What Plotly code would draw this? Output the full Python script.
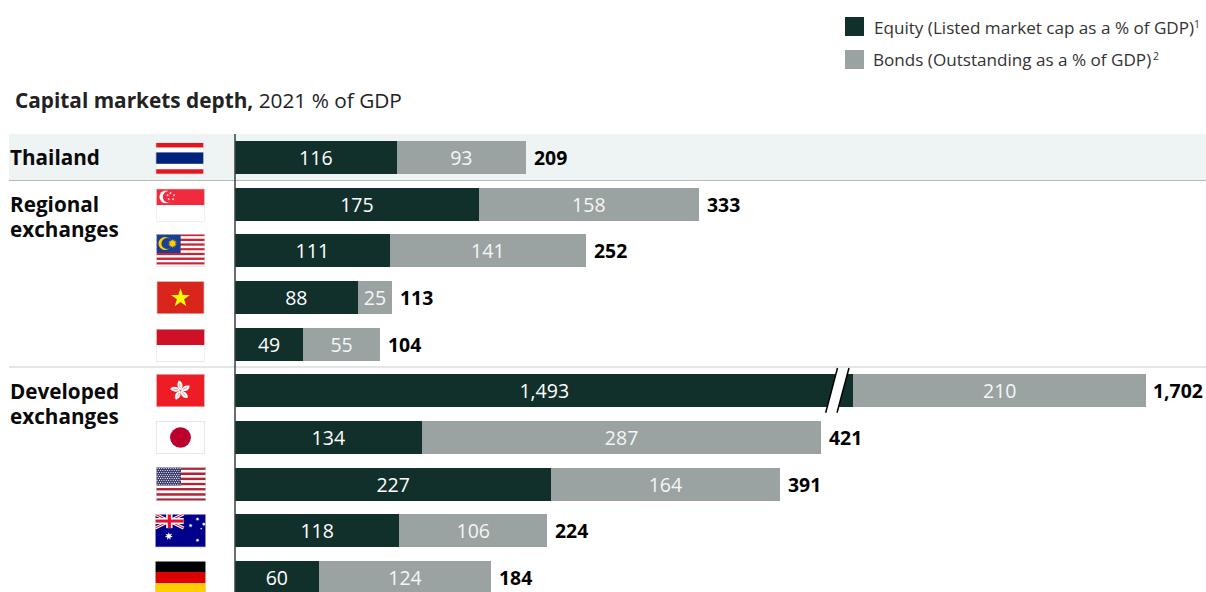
import base64
import math
import plotly.graph_objects as go

W, H = 1206, 592

# Data
countries = ["Thailand", "Singapore", "Malaysia", "Vietnam", "Indonesia",
             "Hong Kong", "Japan", "United States", "Australia", "Germany"]
equity = [116, 175, 111, 88, 49, 1493, 134, 227, 118, 60]
bonds = [93, 158, 141, 25, 55, 210, 287, 164, 106, 124]
totals = [209, 333, 252, 113, 104, 1702, 421, 391, 224, 184]
# Span cut out of the Hong Kong equity bar by the axis break
axis_cut = [0, 0, 0, 0, 0, 1049, 0, 0, 0, 0]

DARK = "#12302B"
GREY = "#9BA2A2"
FONT = "Open Sans"

PX_PER_UNIT = 1.393
ZERO_X = 235.0
ROW0 = 157.5
ROW_STEP = 46.67
BAR_PX = 33


def fx(px):
    return px / W


def fy(py):
    return 1 - py / H


def star(cx, cy, r, fill, inner=0.382, n=5):
    pts = []
    for i in range(n * 2):
        rad = r if i % 2 == 0 else r * inner
        a = -math.pi / 2 + i * math.pi / n
        pts.append(f"{cx + rad * math.cos(a):.2f},{cy + rad * math.sin(a):.2f}")
    return f'<polygon points="{" ".join(pts)}" fill="{fill}"/>'


def rect(x, y, w, h, fill):
    return f'<rect x="{x}" y="{y}" width="{w}" height="{h}" fill="{fill}"/>'


def stripes(n, a, b):
    step = 33 / n
    return "".join(rect(0, i * step, 48, step + 0.05, a if i % 2 == 0 else b) for i in range(n))


def flag_thailand():
    return rect(0, 0, 48, 33, "#fff") + rect(0, 1, 48, 4.5, "#E2161F") + rect(0, 10.5, 48, 11.5, "#00247D") + rect(0, 27.5, 48, 4.5, "#E2161F")


def flag_singapore():
    body = rect(0, 0, 48, 16.5, "#EF2B3D") + rect(0, 16.5, 48, 16.5, "#fff")
    body += '<circle cx="9.5" cy="8.2" r="6.4" fill="#fff"/><circle cx="12.2" cy="8.2" r="5.8" fill="#EF2B3D"/>'
    for cx, cy in [(14, 4.6), (17.6, 6.6), (16.6, 10.6), (12.4, 10.6), (11.2, 6.6)]:
        body += star(cx, cy, 1.5, "#fff")
    return body


def flag_malaysia():
    body = stripes(14, "#CC2233", "#fff")
    body += rect(0, 0, 24, 19, "#1C3F94")
    body += '<circle cx="8.5" cy="9.5" r="6.4" fill="#FFCC00"/><circle cx="10.5" cy="9.5" r="5.4" fill="#1C3F94"/>'
    body += star(16, 9.5, 4.6, "#FFCC00", inner=0.55, n=14)
    return body


def flag_vietnam():
    return rect(0, 0, 48, 33, "#DA251D") + star(24, 17, 10, "#FFFF00")


def flag_indonesia():
    return rect(0, 0, 48, 16, "#CE1126") + rect(0, 16, 48, 17, "#fff")


def flag_hong_kong():
    body = rect(0, 0, 48, 33, "#EE1C25")
    for k in range(5):
        a = k * 72
        body += (f'<g transform="rotate({a} 24 16.5)">'
                 '<path d="M24 16.2 C20.8 13.6 20 10 22.2 6.4 C25.8 7.4 27.6 12 24 16.2Z" fill="#fff"/>'
                 '<path d="M23.6 14 L23.2 9.5" stroke="#EE1C25" stroke-width="0.45"/></g>')
    return body


def flag_japan():
    return rect(0, 0, 48, 33, "#fff") + '<circle cx="24" cy="16.5" r="10.2" fill="#BC002D"/>'


def flag_usa():
    body = stripes(13, "#B22234", "#fff") + rect(0, 0, 24, 17.8, "#3C3B6E")
    for row in range(9):
        for col in range(11 if row % 2 == 0 else 10):
            ox = 1.1 if row % 2 == 0 else 2.2
            body += f'<circle cx="{ox + col * 2.2:.2f}" cy="{1.2 + row * 1.93:.2f}" r="0.55" fill="#fff"/>'
    return body


def flag_australia():
    body = rect(0, 0, 48, 33, "#00008B")
    body += '<path d="M0 0L27 14M27 0L0 14" stroke="#fff" stroke-width="3"/>'
    body += '<path d="M0 0L27 14M27 0L0 14" stroke="#E8112D" stroke-width="1.1"/>'
    body += rect(10.5, 0, 6, 14, "#fff") + rect(0, 4, 27, 6, "#fff")
    body += rect(12, 0, 3, 14, "#E8112D") + rect(0, 5.5, 27, 3, "#E8112D")
    body += star(13, 22, 4, "#fff", inner=0.45, n=7)
    for cx, cy, r in [(40, 26, 2), (40, 5, 2), (33.5, 11.5, 2), (46, 10, 2), (43.5, 14.5, 1.1)]:
        body += star(cx, cy, r, "#fff", inner=0.45, n=7)
    return body


def flag_germany():
    return rect(0, 0, 48, 11, "#000") + rect(0, 11, 48, 11, "#DD0000") + rect(0, 22, 48, 11, "#FFCE00")


def flag_uri(body):
    svg = ('<svg xmlns="http://www.w3.org/2000/svg" width="192" height="132" viewBox="0 0 48 33" '
           f'preserveAspectRatio="none">{body}'
           '<rect x="0.3" y="0.3" width="47.4" height="32.4" fill="none" stroke="#D8DADA" stroke-width="0.6"/></svg>')
    return "data:image/svg+xml;base64," + base64.b64encode(svg.encode()).decode()


# Flag artwork with its box on the page: left, top, right, bottom
flags = [
    (flag_thailand, 155.7, 142, 203.7, 174.7),
    (flag_singapore, 156.3, 188.7, 204.7, 221.7),
    (flag_malaysia, 156.3, 234, 205, 267),
    (flag_vietnam, 156.7, 281.3, 204.3, 314),
    (flag_indonesia, 156.3, 329, 204.7, 362),
    (flag_hong_kong, 156.3, 374, 204.7, 407),
    (flag_japan, 156, 421, 205, 454),
    (flag_usa, 156, 467.3, 206, 501),
    (flag_australia, 155, 514, 206, 547.3),
    (flag_germany, 155, 561, 206, 594),
]

images = [
    dict(source=flag_uri(f()), xref="paper", yref="paper", x=fx(l), y=fy(t),
         sizex=(r - l) / W, sizey=(b - t) / H, sizing="stretch",
         xanchor="left", yanchor="top", layer="above")
    for f, l, t, r, b in flags
]

drawn_equity = [v - c for v, c in zip(equity, axis_cut)]
drawn_totals = [v - c for v, c in zip(totals, axis_cut)]

fig = go.Figure()
fig.add_bar(
    y=countries, x=drawn_equity, orientation="h", name="Equity", marker=dict(color=DARK, line_width=0),
    text=[f"{v:,}" for v in equity], textposition="inside", insidetextanchor="middle", textangle=0,
    insidetextfont=dict(family=FONT, size=19.5, color="#FFFFFF"), constraintext="none", hoverinfo="skip",
)
fig.add_bar(
    y=countries, x=bonds, orientation="h", name="Bonds", marker=dict(color=GREY, line_width=0),
    text=[f"{v:,}" for v in bonds], textposition="inside", insidetextanchor="middle", textangle=0,
    insidetextfont=dict(family=FONT, size=19.5, color="#F4F6F6"), constraintext="none", hoverinfo="skip",
)


def label(text, x, y, size, color="#111111", anchor="left"):
    return dict(text=text, xref="paper", yref="paper", x=fx(x), y=fy(y), xanchor=anchor, yanchor="middle",
                showarrow=False, borderpad=0, borderwidth=0, font=dict(family=FONT, size=size, color=color))


annotations = [
    dict(text=f"<b>{v:,}</b>", x=d, y=c, xref="x", yref="y", xanchor="left", yanchor="middle", xshift=7,
         showarrow=False, borderpad=0, font=dict(family=FONT, size=19.4, color="#000000"))
    for c, v, d in zip(countries, totals, drawn_totals)
]
annotations += [
    label("<b>Capital markets depth,</b> 2021 % of GDP", 15, 100, 20.8, "#222222"),
    label("<b>Thailand</b>", 10, 156.5, 20.7, "#0A0A0A"),
    label("<b>Regional</b>", 10, 203.5, 20.7, "#0A0A0A"),
    label("<b>exchanges</b>", 10, 228.5, 20.7, "#0A0A0A"),
    label("<b>Developed</b>", 10, 390.5, 20.7, "#0A0A0A"),
    label("<b>exchanges</b>", 10, 415.5, 20.7, "#0A0A0A"),
    label("Equity (Listed market cap as a % of GDP)", 873.5, 27.5, 17.1, "#333333"),
    label("1", 1194, 24.5, 10.5, "#333333"),
    label("Bonds (Outstanding as a % of GDP)", 873.5, 59, 17.1, "#333333"),
    label("2", 1153, 55.5, 10.5, "#333333"),
]


def page_rect(x0, y0, x1, y1, color, layer="below"):
    return dict(type="rect", xref="paper", yref="paper", x0=fx(x0), x1=fx(x1), y0=fy(y0), y1=fy(y1),
                fillcolor=color, line_width=0, layer=layer)


def page_line(x0, y0, x1, y1, color, width, layer="below"):
    return dict(type="line", xref="paper", yref="paper", x0=fx(x0), x1=fx(x1), y0=fy(y0), y1=fy(y1),
                line=dict(color=color, width=width), layer=layer)


shapes = [
    page_rect(9, 134, W, 180, "#EEF3F3"),
    page_line(9, 180.5, W, 180.5, "#B4BABA", 1),
    page_line(9, 367, W, 367, "#C8CDCD", 1),
    page_rect(845, 17, 864, 36, DARK),
    page_rect(845, 50, 864, 69, GREY),
    page_line(235, 134, 235, H, "#3A3F3F", 1.5, "above"),
    # Axis break across the Hong Kong bar
    dict(type="path", xref="paper", yref="paper",
         path=(f"M {fx(837.5)} {fy(368)} L {fx(849)} {fy(368)} "
               f"L {fx(837)} {fy(412.7)} L {fx(825.7)} {fy(412.7)} Z"),
         fillcolor="#FFFFFF", line_width=0, layer="above"),
    page_line(837.5, 368, 825.7, 412.7, "#000000", 1.5, "above"),
    page_line(849, 368, 837, 412.7, "#000000", 1.5, "above"),
]

fig.update_layout(
    width=W, height=H, autosize=False,
    margin=dict(l=0, r=0, t=0, b=0, pad=0),
    paper_bgcolor="#FFFFFF", plot_bgcolor="rgba(0,0,0,0)",
    barmode="stack", bargap=1 - BAR_PX / ROW_STEP, showlegend=False,
    xaxis=dict(visible=False, range=[-ZERO_X / PX_PER_UNIT, (W - ZERO_X) / PX_PER_UNIT], fixedrange=True),
    yaxis=dict(visible=False, type="category", categoryorder="array", categoryarray=countries,
               range=[(H - ROW0) / ROW_STEP, -ROW0 / ROW_STEP], fixedrange=True),
    annotations=annotations, shapes=shapes, images=images,
)

fig.write_html("out.html", config=dict(displayModeBar=False))
